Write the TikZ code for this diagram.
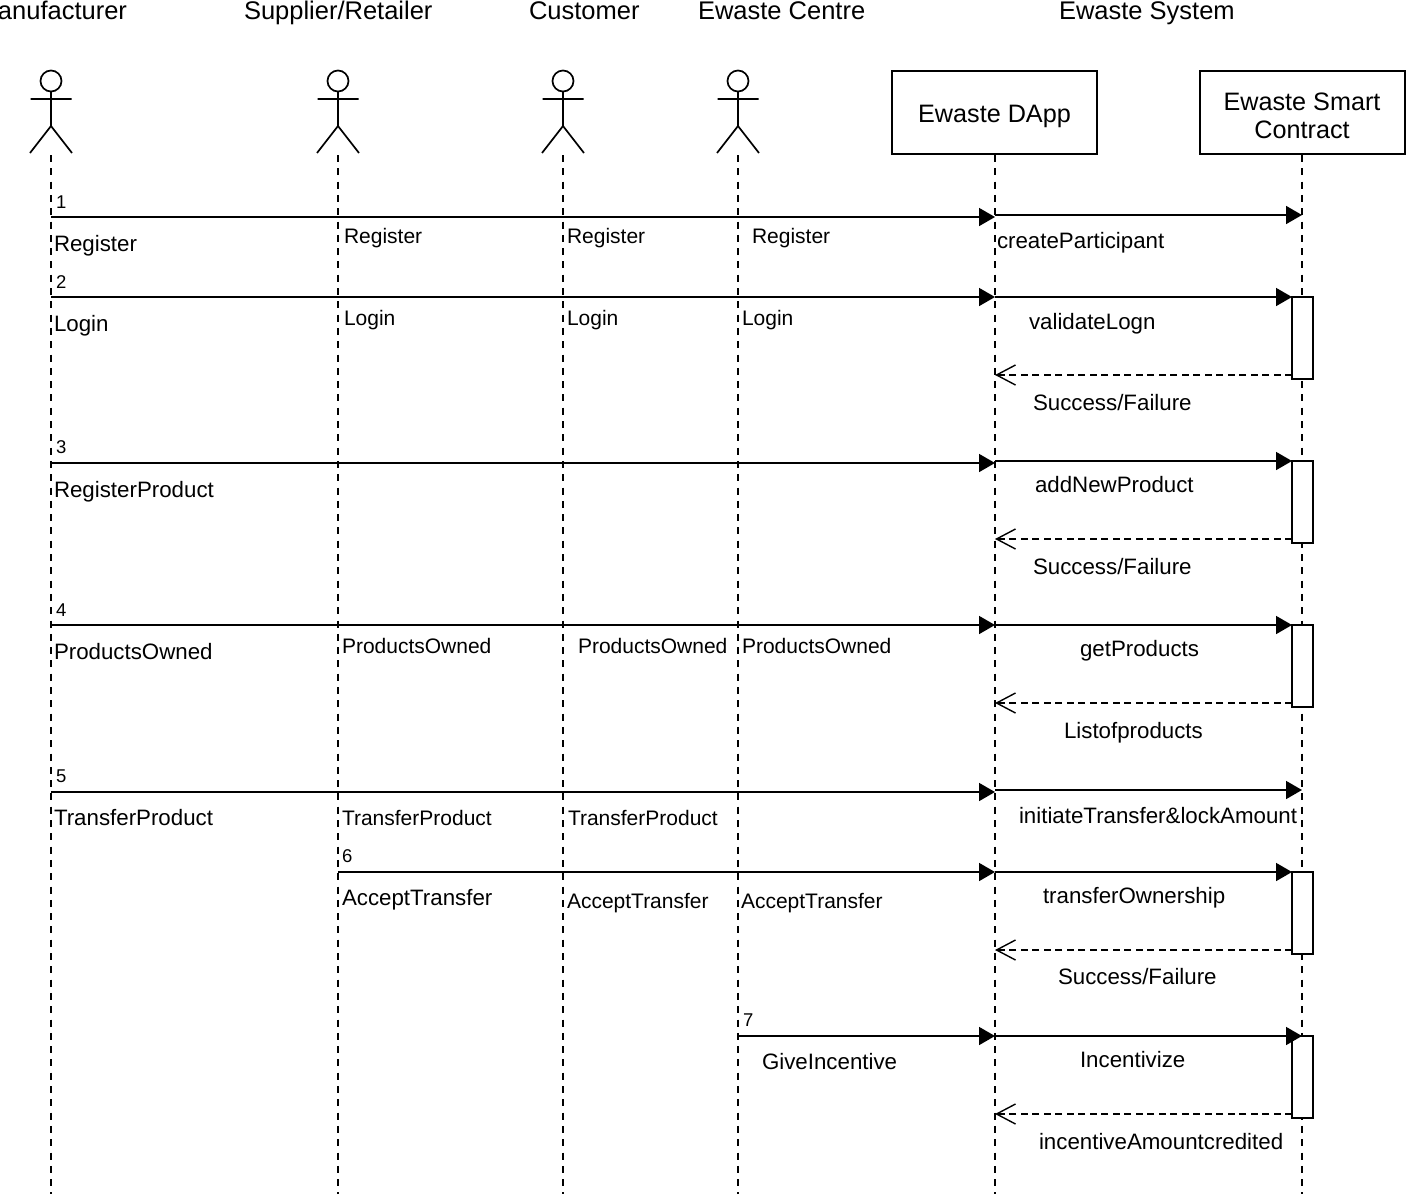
\documentclass[tikz,border=0pt]{standalone}
\usepackage{fontspec}
\setmainfont{Liberation Sans}
\usetikzlibrary{arrows.meta}
\tikzset{
  every node/.style={inner sep=0pt,outer sep=0pt,text=black},
  head/.style={anchor=base west,font=\fontsize{25.5}{28}\selectfont},
  big/.style={anchor=base west,font=\fontsize{22.3}{26}\selectfont},
  small/.style={anchor=base west,font=\fontsize{21}{24}\selectfont},
  num/.style={anchor=base west,font=\fontsize{18.5}{22}\selectfont},
  lifeline/.style={line width=1.7pt,dash pattern=on 7pt off 6.3pt},
  stick/.style={line width=1.7pt},
  obj/.style={draw,line width=1.9pt,fill=white,minimum width=205pt,minimum height=83pt},
  objtext/.style={align=center,font=\fontsize{25.2}{28}\selectfont},
  act/.style={draw,line width=1.9pt,fill=white,minimum width=21pt,minimum height=82pt},
  msg/.style={line width=1.7pt,-{Triangle[length=16pt,width=18pt]}},
  ret/.style={line width=1.5pt,dash pattern=on 7pt off 4.5pt,-{Straight Barb[length=19pt,width=20pt,line width=1.4pt]}},
}
\newcommand{\actor}[2]{%
  \draw[stick] (#1,81) circle (10.5);
  \draw[stick] (#1,92) -- (#1,126) (#1-20.5,99) -- (#1+20.5,99)
     (#1-21,153) -- (#1,126) -- (#1+21,153);
  \coordinate (#2) at (#1,155);
  \coordinate (#2b) at (#1,1200);
  \draw[lifeline] (#2) -- (#2b);
}
\begin{document}
\begin{tikzpicture}[x=1pt,y=-1pt]
\useasboundingbox (0,0) rectangle (1406,1194);
% headers
\node[head] (hm) at (-2,19) {anufacturer};
\node[head] (hs) at (244,19) {Supplier/Retailer};
\node[head] (hc) at (529,19) {Customer};
\node[head] (he) at (698,19) {Ewaste Centre};
\node[head] (hy) at (1059,19) {Ewaste System};
% actors
\actor{51}{lm}
\actor{338}{ls}
\actor{563}{lc}
\actor{738}{le}
% objects + lifelines
\draw[lifeline] (995,155) coordinate (ld) -- (995,1200) coordinate (ldb);
\draw[lifeline] (1302,155) coordinate (lk) -- (1302,1200) coordinate (lkb);
\node[obj] (dapp) at (994.5,112.5) {};
\node[obj] (sc) at (1302.5,112.5) {};
\node[objtext] (dappt) at (994.5,116.5) {Ewaste DApp};
\node[objtext] (sct) at (1302,115.5) {Ewaste Smart\\Contract};
% activations
\node[act] (a2) at (1302.5,338) {};
\node[act] (a3) at (1302.5,502) {};
\node[act] (a4) at (1302.5,666) {};
\node[act] (a6) at (1302.5,913) {};
\node[act] (a7) at (1302.5,1077) {};
% anchor coordinates on the lifelines
\foreach \n/\ya/\yb in {1/217/215,2/297/297,3/463/461,4/625/625,5/792/790,6/872/872,7/1036/1036}{
  \coordinate (d\n) at (995,\ya);
  \coordinate (dr\n) at (995,\yb);
  \coordinate (k\n) at (1302,\yb);
  \coordinate (m\n) at (51,\ya);
}
\coordinate (s6) at (338,872);
\coordinate (e7) at (738,1036);
% messages to the DApp
\draw[msg] (m1) -- (d1);
\draw[msg] (m2) -- (d2);
\draw[msg] (m3) -- (d3);
\draw[msg] (m4) -- (d4);
\draw[msg] (m5) -- (d5);
\draw[msg] (s6) -- (d6);
\draw[msg] (e7) -- (d7);
% messages to the contract
\draw[msg] (dr1) -- (k1);
\draw[msg] (dr2) -- (a2.north west);
\draw[msg] (dr3) -- (a3.north west);
\draw[msg] (dr4) -- (a4.north west);
\draw[msg] (dr5) -- (k5);
\draw[msg] (dr6) -- (a6.north west);
\draw[msg] (dr7) -- (k7);
% returns
\foreach \a/\y in {a2/375,a3/539,a4/703,a6/950,a7/1114}{
  \coordinate (r\a) at (995,\y);
  \draw[ret] (\a.west |- r\a) -- (r\a);
}
% numbers
\node[num] (n1) at (56,208) {1};
\node[num] (n2) at (56,288) {2};
\node[num] (n3) at (56,453) {3};
\node[num] (n4) at (56,616) {4};
\node[num] (n5) at (56,782) {5};
\node[num] (n6) at (342,862) {6};
\node[num] (n7) at (743,1026) {7};
% column 1
\node[big] (t1a) at (54,251) {Register};
\node[big] (t1b) at (54,331) {Login};
\node[big] (t1c) at (54,497) {RegisterProduct};
\node[big] (t1d) at (54,659) {ProductsOwned};
\node[big] (t1e) at (54,825) {TransferProduct};
% column 2
\node[small] (t2a) at (344,243) {Register};
\node[small] (t2b) at (344,325) {Login};
\node[small] (t2d) at (342,653) {ProductsOwned};
\node[small] (t2e) at (342,825) {TransferProduct};
\node[big] (t2f) at (342,905) {AcceptTransfer};
% column 3
\node[small] (t3a) at (567,243) {Register};
\node[small] (t3b) at (567,325) {Login};
\node[small] (t3d) at (578,653) {ProductsOwned};
\node[small] (t3e) at (568,825) {TransferProduct};
\node[small] (t3f) at (567,908) {AcceptTransfer};
% column 4
\node[small] (t4a) at (752,243) {Register};
\node[small] (t4b) at (742,325) {Login};
\node[small] (t4d) at (742,653) {ProductsOwned};
\node[small] (t4f) at (741,908) {AcceptTransfer};
\node[big] (t4g) at (762,1069) {GiveIncentive};
% right side
\node[big] (r1) at (997,248) {createParticipant};
\node[big] (r2) at (1029,329) {validateLogn};
\node[big] (r3) at (1033,410) {Success/Failure};
\node[big] (r4) at (1035,492) {addNewProduct};
\node[big] (r5) at (1033,574) {Success/Failure};
\node[big] (r6) at (1080,656) {getProducts};
\node[big] (r7) at (1064,738) {Listofproducts};
\node[big] (r8) at (1019,823) {initiateTransfer\&lockAmount};
\node[big] (r9) at (1043,903) {transferOwnership};
\node[big] (r10) at (1058,984) {Success/Failure};
\node[big] (r11) at (1080,1067) {Incentivize};
\node[big] (r12) at (1039,1149) {incentiveAmountcredited};
\end{tikzpicture}
\end{document}
